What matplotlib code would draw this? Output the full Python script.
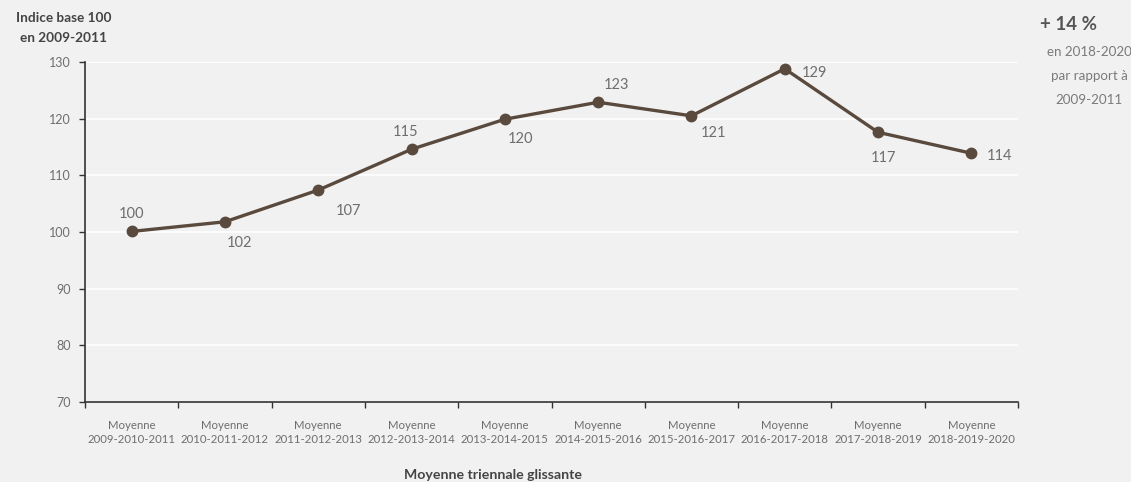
import matplotlib
matplotlib.use("Agg")
import matplotlib.pyplot as plt
import numpy as np

periods = ["Moyenne\n2009-2010-2011", "Moyenne\n2010-2011-2012", "Moyenne\n2011-2012-2013",
           "Moyenne\n2012-2013-2014", "Moyenne\n2013-2014-2015", "Moyenne\n2014-2015-2016",
           "Moyenne\n2015-2016-2017", "Moyenne\n2016-2017-2018", "Moyenne\n2017-2018-2019",
           "Moyenne\n2018-2019-2020"]
values = [100.1, 101.8, 107.4, 114.6, 119.9, 122.9, 120.5, 128.8, 117.6, 113.9]
labels = ["100", "102", "107", "115", "120", "123", "121", "129", "117", "114"]
# label offsets in pixels (dx, dy)
offsets = [(0, 17), (15, -21), (30, -21), (-6, 17), (16, -20), (18, 17), (22, -17), (30, -4), (5, -26), (28, -3)]
yticks = [70, 80, 90, 100, 110, 120, 130]

BG = "#f1f1f1"
LINE = "#5a4a3e"
GREY = "#6e6e6e"
FONT = "Lato"

plt.rcParams['font.family'] = [FONT, 'DejaVu Sans']

fig = plt.figure(figsize=(11.31, 4.82), dpi=100, facecolor=BG)
ax = fig.add_axes([85/1131, 1-402/482, (1018-85)/1131, (402-62)/482])
ax.set_facecolor(BG)

x = np.arange(len(values))
ax.plot(x, values, color=LINE, lw=2.4, marker='o', ms=7.5, zorder=3)

for xi, v, lab, (dx, dy) in zip(x, values, labels, offsets):
    ax.annotate(lab, (xi, v), xytext=(dx, dy), textcoords='offset pixels',
                ha='center', va='center', fontsize=10.5, color=GREY)

ax.set_xlim(-0.5, len(values) - 0.5)
ax.set_ylim(70, 130)
ax.set_yticks(yticks)
ax.set_yticklabels([str(t) for t in yticks], fontsize=9, color=GREY)
ax.grid(axis='y', color='white', lw=1.2, zorder=0)
ax.set_axisbelow(True)

ax.set_xticks(x)
ax.set_xticklabels(periods, fontsize=8.2, color=GREY, linespacing=1.35)
ax.set_xticks(np.arange(-0.5, len(values), 1.0), minor=True)
ax.tick_params(axis='x', which='major', length=0, pad=13)
ax.tick_params(axis='x', which='minor', length=4, width=1, color="#333333", direction='out')
ax.tick_params(axis='y', length=4, width=1, color="#333333", pad=6)

for s in ['top', 'right']:
    ax.spines[s].set_visible(False)
for s in ['left', 'bottom']:
    ax.spines[s].set_color("#333333")
    ax.spines[s].set_linewidth(1.2)

fig.text(64/1131, 1-18/482, "Indice base 100", ha='center', va='center',
         fontsize=9.8, fontweight='bold', color="#444444")
fig.text(64/1131, 1-38/482, "en 2009-2011", ha='center', va='center',
         fontsize=9.8, fontweight='bold', color="#444444")
fig.text(493/1131, 1-475/482, "Moyenne triennale glissante", ha='center', va='center',
         fontsize=10.2, fontweight='bold', color="#444444")

fig.text(1068/1131, 1-25/482, "+ 14 %", ha='center', va='center', fontsize=13.5,
         fontweight='bold', color="#555555")
for txt, yy in [("en 2018-2020", 52), ("par rapport à", 76), ("2009-2011", 100)]:
    fig.text(1089/1131, 1-yy/482, txt, ha='center', va='center',
             fontsize=9.6, color="#7a7a7a")

fig.savefig("out.png", dpi=100, facecolor=BG)
